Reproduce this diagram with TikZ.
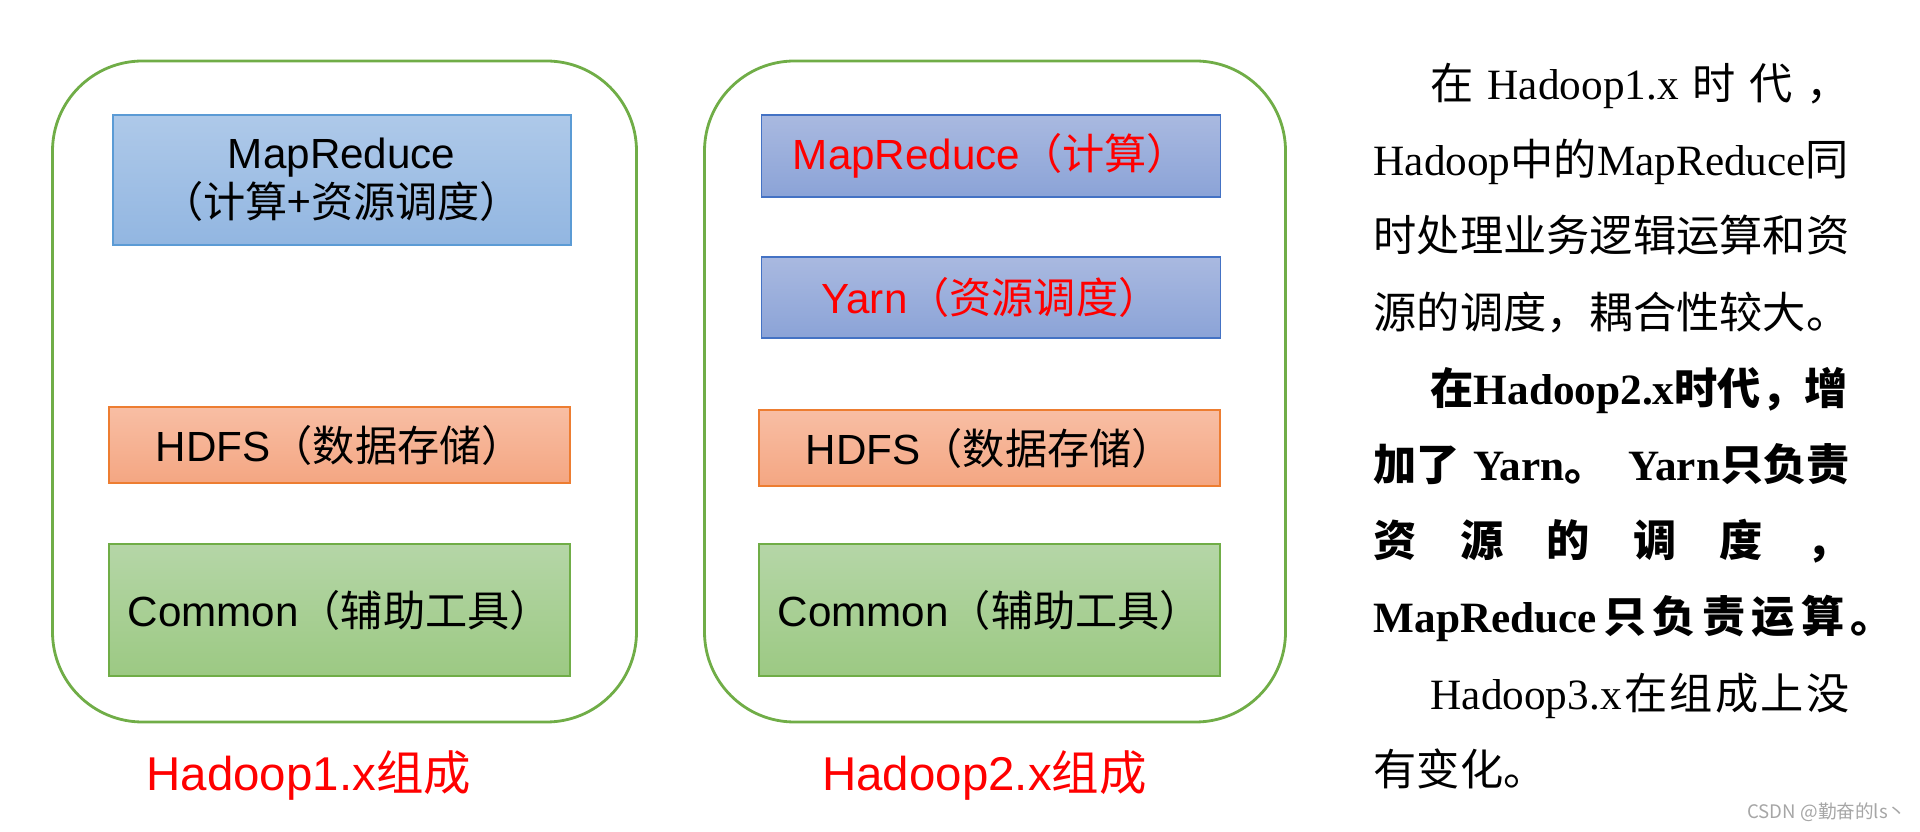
\documentclass[tikz,border=0pt]{standalone}
\usepackage{fontspec}
\usepackage{xcolor}
\usepackage{tikz}
\usetikzlibrary{positioning}

\setmainfont{Liberation Serif}
\newfontfamily\arialf{Liberation Sans}
\newfontfamily\cjk{Noto Sans CJK SC}

\definecolor{frameGreen}{HTML}{70AD47}
\definecolor{mrTop}{HTML}{AEC9E9}
\definecolor{mrBot}{HTML}{92B6E1}
\definecolor{mrLine}{HTML}{5B9BD5}
\definecolor{hdfsTop}{HTML}{F8BEA4}
\definecolor{hdfsBot}{HTML}{F4A682}
\definecolor{hdfsLine}{HTML}{ED7D31}
\definecolor{cmTop}{HTML}{B5D6A7}
\definecolor{cmBot}{HTML}{9CC983}
\definecolor{ynTop}{HTML}{A9B9E0}
\definecolor{ynBot}{HTML}{8BA3D7}
\definecolor{ynLine}{HTML}{4472C4}

\newcommand{\colw}{4.76cm}

\begin{document}
\begin{tikzpicture}[
    frame/.style={rectangle, draw=frameGreen, line width=0.8pt, rounded corners=0.9cm},
    layer/.style={rectangle, draw, line width=0.5pt, align=center, inner sep=0pt,
                  font=\arialf\fontsize{12}{14}\selectfont},
    mrbox/.style={layer, top color=mrTop, bottom color=mrBot, draw=mrLine},
    hdfsbox/.style={layer, top color=hdfsTop, bottom color=hdfsBot, draw=hdfsLine},
    cmbox/.style={layer, top color=cmTop, bottom color=cmBot, draw=frameGreen},
    ynbox/.style={layer, top color=ynTop, bottom color=ynBot, draw=ynLine, text=red},
    grouplabel/.style={font=\arialf\fontsize{13.5}{16}\selectfont, text=red, anchor=base, inner sep=0pt},
    txt/.style={anchor=base west, inner sep=0pt, font=\fontsize{12.3}{14}\selectfont},
]
    \useasboundingbox (0,0) rectangle (19.2,-8.32);

    % ── Hadoop 1.x ──
    \node[frame, minimum width=5.84cm, minimum height=6.61cm] (v1) at (3.445,-3.915) {};
    \node[mrbox, minimum width=4.58cm, minimum height=1.3cm] (mr1) at (3.417,-1.80)
        {MapReduce\\{\cjk （计算+资源调度）}};
    \node[hdfsbox, minimum width=4.61cm, minimum height=0.76cm] (hdfs1) at (3.398,-4.453)
        {HDFS{\cjk （数据存储）}};
    \node[cmbox, minimum width=4.61cm, minimum height=1.32cm] (cm1) at (3.398,-6.10)
        {Common{\cjk （辅助工具）}};
    \node[grouplabel] (cap1) at (3.087,-7.90) {Hadoop1.x{\cjk 组成}};

    % ── Hadoop 2.x ──
    \node[frame, minimum width=5.81cm, minimum height=6.61cm] (v2) at (9.95,-3.915) {};
    \node[ynbox, minimum width=4.59cm, minimum height=0.82cm] (mr2) at (9.91,-1.561)
        {MapReduce{\cjk （计算）}};
    \node[ynbox, minimum width=4.59cm, minimum height=0.81cm] (yarn) at (9.91,-2.976)
        {Yarn{\cjk （资源调度）}};
    \node[hdfsbox, minimum width=4.61cm, minimum height=0.76cm] (hdfs2) at (9.898,-4.482)
        {HDFS{\cjk （数据存储）}};
    \node[cmbox, minimum width=4.61cm, minimum height=1.32cm] (cm2) at (9.898,-6.10)
        {Common{\cjk （辅助工具）}};
    \node[grouplabel] (cap2) at (9.845,-7.90) {Hadoop2.x{\cjk 组成}};

    % ── Side note ──
    \node[txt] (l1) at (13.73,-0.996) {\makebox[\colw][s]{\hspace*{0.57cm}{\cjk 在}\hfill Hadoop1.x\hfill{\cjk 时}\hfill{\cjk 代}\hfill{\cjk ，}}};
    \node[txt] (l2) at (13.73,-1.758) {Hadoop{\cjk 中的}MapReduce{\cjk 同}};
    \node[txt] (l3) at (13.73,-2.520) {\cjk 时处理业务逻辑运算和资};
    \node[txt] (l4) at (13.73,-3.282) {\cjk 源的调度，耦合性较大。};
    \node[txt] (l5) at (13.73,-4.044) {\bfseries\hspace*{0.57cm}{\cjk 在}Hadoop2.x{\cjk 时代，增}};
    \node[txt] (l6) at (13.73,-4.806) {\makebox[\colw][s]{\bfseries{\cjk 加了}\hspace{0.3em}Yarn{\cjk 。}\hfill Yarn{\cjk 只负责}}};
    \node[txt] (l7) at (13.73,-5.568) {\makebox[\colw][s]{\bfseries\cjk 资\hfill 源\hfill 的\hfill 调\hfill 度\hfill ，}};
    \node[txt] (l8) at (13.73,-6.330) {\makebox[5.2cm][s]{\bfseries MapReduce\hfill{\cjk 只}\hfill{\cjk 负}\hfill{\cjk 责}\hfill{\cjk 运}\hfill{\cjk 算}\hfill{\cjk 。}}};
    \node[txt] (l9) at (13.73,-7.092) {\makebox[\colw][s]{\hspace*{0.57cm}Hadoop3.x\hfill{\cjk 在}\hfill{\cjk 组}\hfill{\cjk 成}\hfill{\cjk 上}\hfill{\cjk 没}}};
    \node[txt] (l10) at (13.73,-7.854) {\cjk 有变化。};

    % ── Watermark ──
    \node[font=\cjk\fontsize{5.3}{6}\selectfont, text=gray!70, inner sep=0pt] (mark) at (18.27,-8.12) {CSDN @勤奋的ls丶};

\end{tikzpicture}
\end{document}
